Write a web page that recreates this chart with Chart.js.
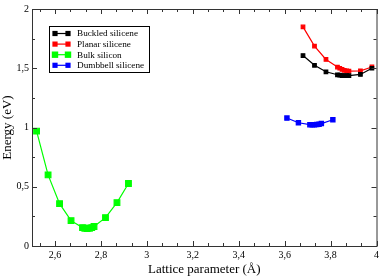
<!DOCTYPE html>
<html>
<head>
<meta charset="utf-8">
<script src="https://cdn.jsdelivr.net/npm/chart.js@4"></script>
<style>
  html, body { margin: 0; padding: 0; background: #fff; }
  #wrap { width: 382px; height: 279px; }
</style>
</head>
<body>
<div id="wrap"><canvas id="myChart"></canvas></div>
<script>
// data
const buckledX = [3.68, 3.73, 3.78, 3.83, 3.84, 3.85, 3.86, 3.87, 3.88, 3.93, 3.98];
const buckledY = [1.607, 1.525, 1.47, 1.445, 1.441, 1.438, 1.437, 1.437, 1.438, 1.448, 1.50];

const planarX = [3.68, 3.73, 3.78, 3.83, 3.84, 3.85, 3.86, 3.87, 3.88, 3.93, 3.98];
const planarY = [1.849, 1.687, 1.574, 1.51, 1.50, 1.49, 1.483, 1.478, 1.475, 1.478, 1.511];

const bulkX = [2.52, 2.57, 2.62, 2.67, 2.72, 2.73, 2.74, 2.75, 2.76, 2.77, 2.82, 2.87, 2.92];
const bulkY = [0.97, 0.60, 0.357, 0.214, 0.155, 0.150, 0.148, 0.150, 0.155, 0.165, 0.239, 0.366, 0.527];

const dumbbellX = [3.61, 3.66, 3.71, 3.72, 3.73, 3.74, 3.75, 3.76, 3.81];
const dumbbellY = [1.08, 1.04, 1.024, 1.023, 1.023, 1.025, 1.028, 1.033, 1.065];

const xTicks = [2.6, 2.8, 3.0, 3.2, 3.4, 3.6, 3.8, 4.0];
const yTicks = [0, 0.5, 1, 1.5, 2];

const serif = 'Liberation Serif';
const fmt = v => String(Math.round(v * 10) / 10).replace('.', ',');
const pts = (xs, ys) => xs.map((x, i) => ({ x: x, y: ys[i] }));

function series(label, xs, ys, color, r) {
  return {
    label: label,
    data: pts(xs, ys),
    showLine: true,
    borderColor: color,
    backgroundColor: color,
    borderWidth: 1.2,
    pointStyle: 'rect',
    pointRadius: r,
    pointHoverRadius: r,
    tension: 0
  };
}

// xmgrace style frame with inward ticks on all four sides
const framePlugin = {
  id: 'frame',
  afterDatasetsDraw(chart) {
    const ctx = chart.ctx, a = chart.chartArea;
    const xs = chart.scales.x, ys = chart.scales.y;
    ctx.save();
    ctx.strokeStyle = '#333';
    ctx.lineWidth = 1;
    ctx.strokeRect(a.left + 0.5, a.top + 0.5, a.right - a.left, a.bottom - a.top);
    ctx.beginPath();
    const xStep = 0.2 / 3;
    for (let v = 2.6 - 2 * xStep; v <= 4.0001; v += xStep) {
      if (v < 2.4999) continue;
      const k = Math.round((v - 2.6) / xStep);
      const len = (k % 3 === 0) ? 5 : 3;
      const px = Math.round(xs.getPixelForValue(v)) + 0.5;
      ctx.moveTo(px, a.bottom); ctx.lineTo(px, a.bottom - len);
      ctx.moveTo(px, a.top); ctx.lineTo(px, a.top + len);
    }
    for (let v = 0; v <= 2.0001; v += 0.25) {
      const major = Math.abs(v * 2 - Math.round(v * 2)) < 1e-6;
      const len = major ? 5 : 3;
      const py = Math.round(ys.getPixelForValue(v)) + 0.5;
      ctx.moveTo(a.left, py); ctx.lineTo(a.left + len, py);
      ctx.moveTo(a.right, py); ctx.lineTo(a.right - len, py);
    }
    ctx.stroke();
    ctx.restore();
  }
};

// legend box inside the plot
const boxLegend = {
  id: 'boxLegend',
  afterDraw(chart) {
    const ctx = chart.ctx, a = chart.chartArea;
    const x0 = a.left + 17, y0 = a.top + 17, w = 100, h = 46;
    ctx.save();
    ctx.fillStyle = '#fff';
    ctx.fillRect(x0, y0, w, h);
    ctx.strokeStyle = '#000';
    ctx.lineWidth = 1;
    ctx.strokeRect(x0 + 0.5, y0 + 0.5, w, h);
    ctx.font = '9.2px "' + serif + '"';
    ctx.textBaseline = 'middle';
    chart.data.datasets.forEach((ds, i) => {
      const cy = y0 + 7.5 + i * 10.6;
      const s = ds.pointRadius === 4 ? 3.2 : 2.6;
      ctx.strokeStyle = ds.borderColor;
      ctx.fillStyle = ds.borderColor;
      ctx.lineWidth = 1.2;
      ctx.beginPath();
      ctx.moveTo(x0 + 6, cy); ctx.lineTo(x0 + 19, cy);
      ctx.stroke();
      ctx.fillRect(x0 + 6 - s, cy - s, 2 * s, 2 * s);
      ctx.fillRect(x0 + 19 - s, cy - s, 2 * s, 2 * s);
      ctx.fillStyle = '#000';
      ctx.fillText(ds.label, x0 + 28, cy + 0.5);
    });
    ctx.restore();
  }
};

const data = {
  datasets: [
    series('Buckled silicene', buckledX, buckledY, '#000000', 2.5),
    series('Planar silicene', planarX, planarY, '#ff0000', 2.5),
    series('Bulk silicon', bulkX, bulkY, '#00ff00', 4),
    series('Dumbbell silicene', dumbbellX, dumbbellY, '#0000ff', 3)
  ]
};

const config = {
  type: 'scatter',
  data: data,
  options: {
    responsive: true,
    maintainAspectRatio: false,
    animation: false,
    devicePixelRatio: 1,
    layout: { padding: { left: 0, top: 4, right: 4, bottom: 0 } },
    plugins: {
      legend: { display: false },
      tooltip: { enabled: false }
    },
    scales: {
      x: {
        type: 'linear',
        min: 2.5,
        max: 4,
        afterBuildTicks: s => { s.ticks = xTicks.map(v => ({ value: v })); },
        afterFit: s => { s.height = 33; },
        grid: { display: false, drawTicks: false },
        border: { display: false },
        ticks: {
          callback: v => fmt(v),
          font: { family: serif, size: 10 },
          color: '#000',
          padding: 3,
          maxRotation: 0,
          autoSkip: false
        },
        title: {
          display: true,
          text: 'Lattice parameter (Å)',
          font: { family: serif, size: 13 },
          color: '#000',
          padding: { top: 0, bottom: 2 }
        }
      },
      y: {
        min: 0,
        max: 2,
        afterBuildTicks: s => { s.ticks = yTicks.map(v => ({ value: v })); },
        afterFit: s => { s.width = 32; },
        grid: { display: false, drawTicks: false },
        border: { display: false },
        ticks: {
          callback: v => fmt(v),
          font: { family: serif, size: 10 },
          color: '#000',
          padding: 3
        },
        title: {
          display: true,
          text: 'Energy (eV)',
          font: { family: serif, size: 13 },
          color: '#000',
          padding: { top: 0, bottom: 0 }
        }
      }
    }
  },
  plugins: [framePlugin, boxLegend]
};

const myChart = new Chart(document.getElementById('myChart'), config);
</script>
</body>
</html>
